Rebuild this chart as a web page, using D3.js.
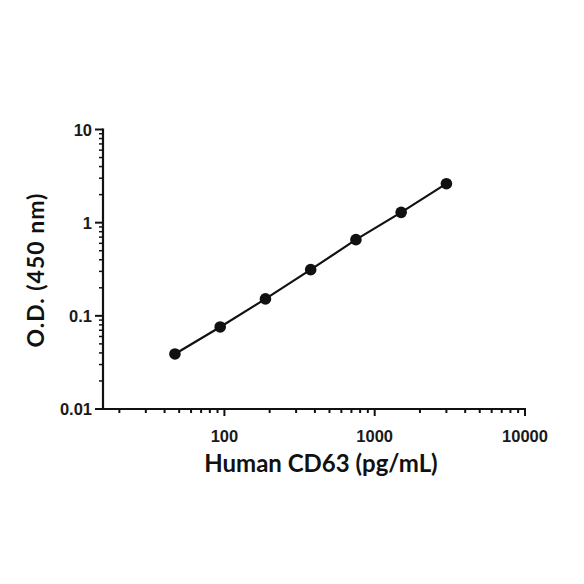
<!DOCTYPE html>
<html><head><meta charset="utf-8">
<script src="https://cdn.jsdelivr.net/npm/d3@7"></script>
<style>body{margin:0;background:#fff}</style>
</head><body>
<svg id="c" width="584" height="584"></svg>
<script>
const concentrations = [46.875, 93.75, 187.5, 375, 750, 1500, 3000];
const odValues = [0.039, 0.076, 0.152, 0.313, 0.657, 1.29, 2.62];
const xTickLabels = [100, 1000, 10000];
const yTickLabels = [0.01, 0.1, 1, 10];
const xTitle = "Human CD63 (pg/mL)";
const yTitle = "O.D. (450 nm)";

const svg = d3.select("#c");
const x = d3.scaleLog().domain([14.2, 10000]).range([97, 525]);
const y = d3.scaleLog().domain([0.01, 10]).range([409, 129.5]);
const axisX = 103;
const axisY = 409;
const stroke = "#111";

function minors(lo, hi) {
  const out = [];
  for (let p = Math.floor(Math.log10(lo)); p <= Math.ceil(Math.log10(hi)); p++) {
    for (let m = 1; m <= 9; m++) {
      const v = m * Math.pow(10, p);
      if (v >= lo * 0.999 && v <= hi * 1.001) out.push(v);
    }
  }
  return out;
}

// X axis
const gx = svg.append("g");
gx.append("line").attr("x1", 95).attr("x2", x(10000)+1).attr("y1", axisY).attr("y2", axisY)
  .attr("stroke", stroke).attr("stroke-width", 2.2);
minors(20, 10000).forEach(v => {
  const major = xTickLabels.includes(v);
  gx.append("line").attr("x1", x(v)).attr("x2", x(v)).attr("y1", axisY)
    .attr("y2", axisY + (major ? 7 : 4)).attr("stroke", stroke).attr("stroke-width", 2);
});
xTickLabels.forEach(v => {
  gx.append("text").attr("x", x(v)).attr("y", 442).attr("text-anchor", "middle")
    .attr("font-family", "Liberation Sans, Arial, sans-serif").attr("font-size", 16.5)
    .attr("font-weight", "bold").attr("fill", "#1a1a1a").text(v);
});

// Y axis
const gy = svg.append("g");
gy.append("line").attr("x1", axisX).attr("x2", axisX).attr("y1", y(10)-1).attr("y2", axisY)
  .attr("stroke", stroke).attr("stroke-width", 2.2);
minors(0.01, 10).forEach(v => {
  const major = yTickLabels.some(t => Math.abs(t - v) / t < 1e-6);
  gy.append("line").attr("x1", axisX).attr("x2", axisX - (major ? 8 : 4))
    .attr("y1", y(v)).attr("y2", y(v)).attr("stroke", stroke).attr("stroke-width", major ? 2 : 1.5);
});
yTickLabels.forEach(v => {
  gy.append("text").attr("x", 92).attr("y", y(v) + 6).attr("text-anchor", "end")
    .attr("font-family", "Liberation Sans, Arial, sans-serif").attr("font-size", 16.5)
    .attr("font-weight", "bold").attr("fill", "#1a1a1a").text(v);
});

// Titles
svg.append("text").attr("x", 321).attr("y", 472).attr("text-anchor", "middle")
  .attr("font-family", "Lato, sans-serif").attr("font-weight", "bold").attr("font-size", 24)
  .attr("fill", "#111").text(xTitle);
svg.append("text").attr("transform", "translate(44,270) rotate(-90)").attr("text-anchor", "middle")
  .attr("font-family", "Lato, sans-serif").attr("font-weight", "bold").attr("font-size", 23)
  .attr("letter-spacing", 1).attr("fill", "#111").text(yTitle);

// Data
const line = d3.line().x(d => x(d[0])).y(d => y(d[1]));
const pts = concentrations.map((c, i) => [c, odValues[i]]);
svg.append("path").datum(pts).attr("d", line).attr("fill", "none")
  .attr("stroke", stroke).attr("stroke-width", 2.2);
svg.selectAll("circle.pt").data(pts).enter().append("circle")
  .attr("cx", d => x(d[0])).attr("cy", d => y(d[1])).attr("r", 5.8).attr("fill", stroke);
</script>
</body></html>
